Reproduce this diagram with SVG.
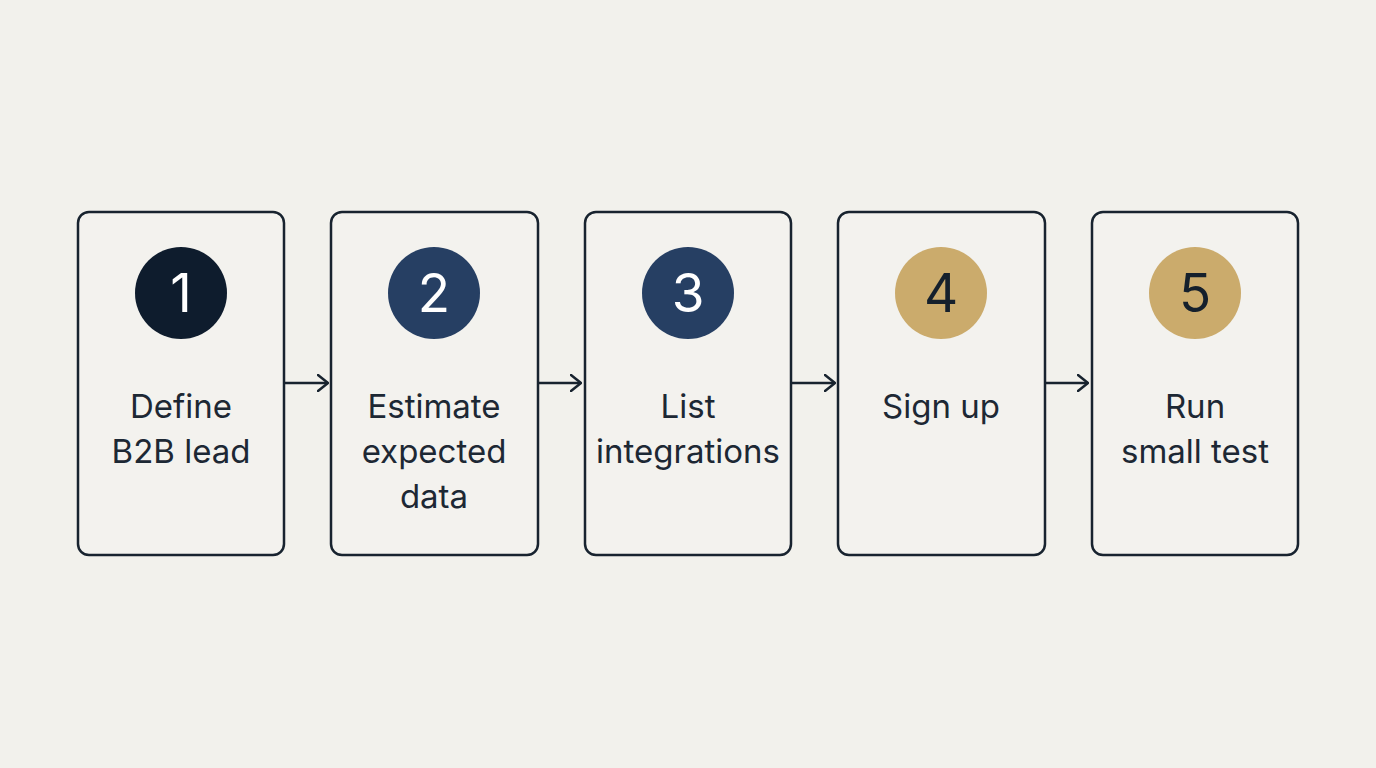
<svg xmlns="http://www.w3.org/2000/svg" width="1376" height="768" viewBox="0 0 1376 768">
<defs>
<style>
.box{fill:#f3f2ee;stroke:#18232f;stroke-width:2.5}
.lbl{font-family:Inter,"Liberation Sans",sans-serif;font-size:33px;fill:#1d2834;text-anchor:middle}
.num{font-family:Inter,"Liberation Sans",sans-serif;font-size:53px;text-anchor:middle}
.w{fill:#ffffff}
.d{fill:#15202c}
.conn{stroke:#18232f;stroke-width:2.5;fill:none}
</style>
<marker id="ah" viewBox="0 0 12 18" refX="11" refY="9" markerWidth="12" markerHeight="18" markerUnits="userSpaceOnUse" orient="auto">
<path d="M1,1 L11,9 L1,17" fill="none" stroke="#18232f" stroke-width="2.5" stroke-linecap="round" stroke-linejoin="round"/>
</marker>
</defs>
<rect width="1376" height="768" fill="#f2f1ec"/>
<g id="connectors">
<line class="conn" x1="285" y1="383" x2="328" y2="383" marker-end="url(#ah)"/>
<line class="conn" x1="538" y1="383" x2="581" y2="383" marker-end="url(#ah)"/>
<line class="conn" x1="792" y1="383" x2="835" y2="383" marker-end="url(#ah)"/>
<line class="conn" x1="1045" y1="383" x2="1088" y2="383" marker-end="url(#ah)"/>
</g>
<g id="step1">
<rect class="box" x="78" y="212" width="206" height="343" rx="11"/>
<circle cx="181" cy="293" r="46" fill="#0e1c2d"/>
<text class="num w" x="181" y="312">1</text>
<text class="lbl" x="181" y="418">Define</text>
<text class="lbl" x="181" y="463">B2B lead</text>
</g>
<g id="step2">
<rect class="box" x="331" y="212" width="207" height="343" rx="11"/>
<circle cx="434" cy="293" r="46" fill="#263f63"/>
<text class="num w" x="434" y="312">2</text>
<text class="lbl" x="434" y="418">Estimate</text>
<text class="lbl" x="434" y="463">expected</text>
<text class="lbl" x="434" y="508">data</text>
</g>
<g id="step3">
<rect class="box" x="585" y="212" width="206" height="343" rx="11"/>
<circle cx="688" cy="293" r="46" fill="#263f63"/>
<text class="num w" x="688" y="312">3</text>
<text class="lbl" x="688" y="418">List</text>
<text class="lbl" x="688" y="463">integrations</text>
</g>
<g id="step4">
<rect class="box" x="838" y="212" width="207" height="343" rx="11"/>
<circle cx="941" cy="293" r="46" fill="#cbab6c"/>
<text class="num d" x="941" y="312">4</text>
<text class="lbl" x="941" y="418">Sign up</text>
</g>
<g id="step5">
<rect class="box" x="1092" y="212" width="206" height="343" rx="11"/>
<circle cx="1195" cy="293" r="46" fill="#cbab6c"/>
<text class="num d" x="1195" y="312">5</text>
<text class="lbl" x="1195" y="418">Run</text>
<text class="lbl" x="1195" y="463">small test</text>
</g>
</svg>
